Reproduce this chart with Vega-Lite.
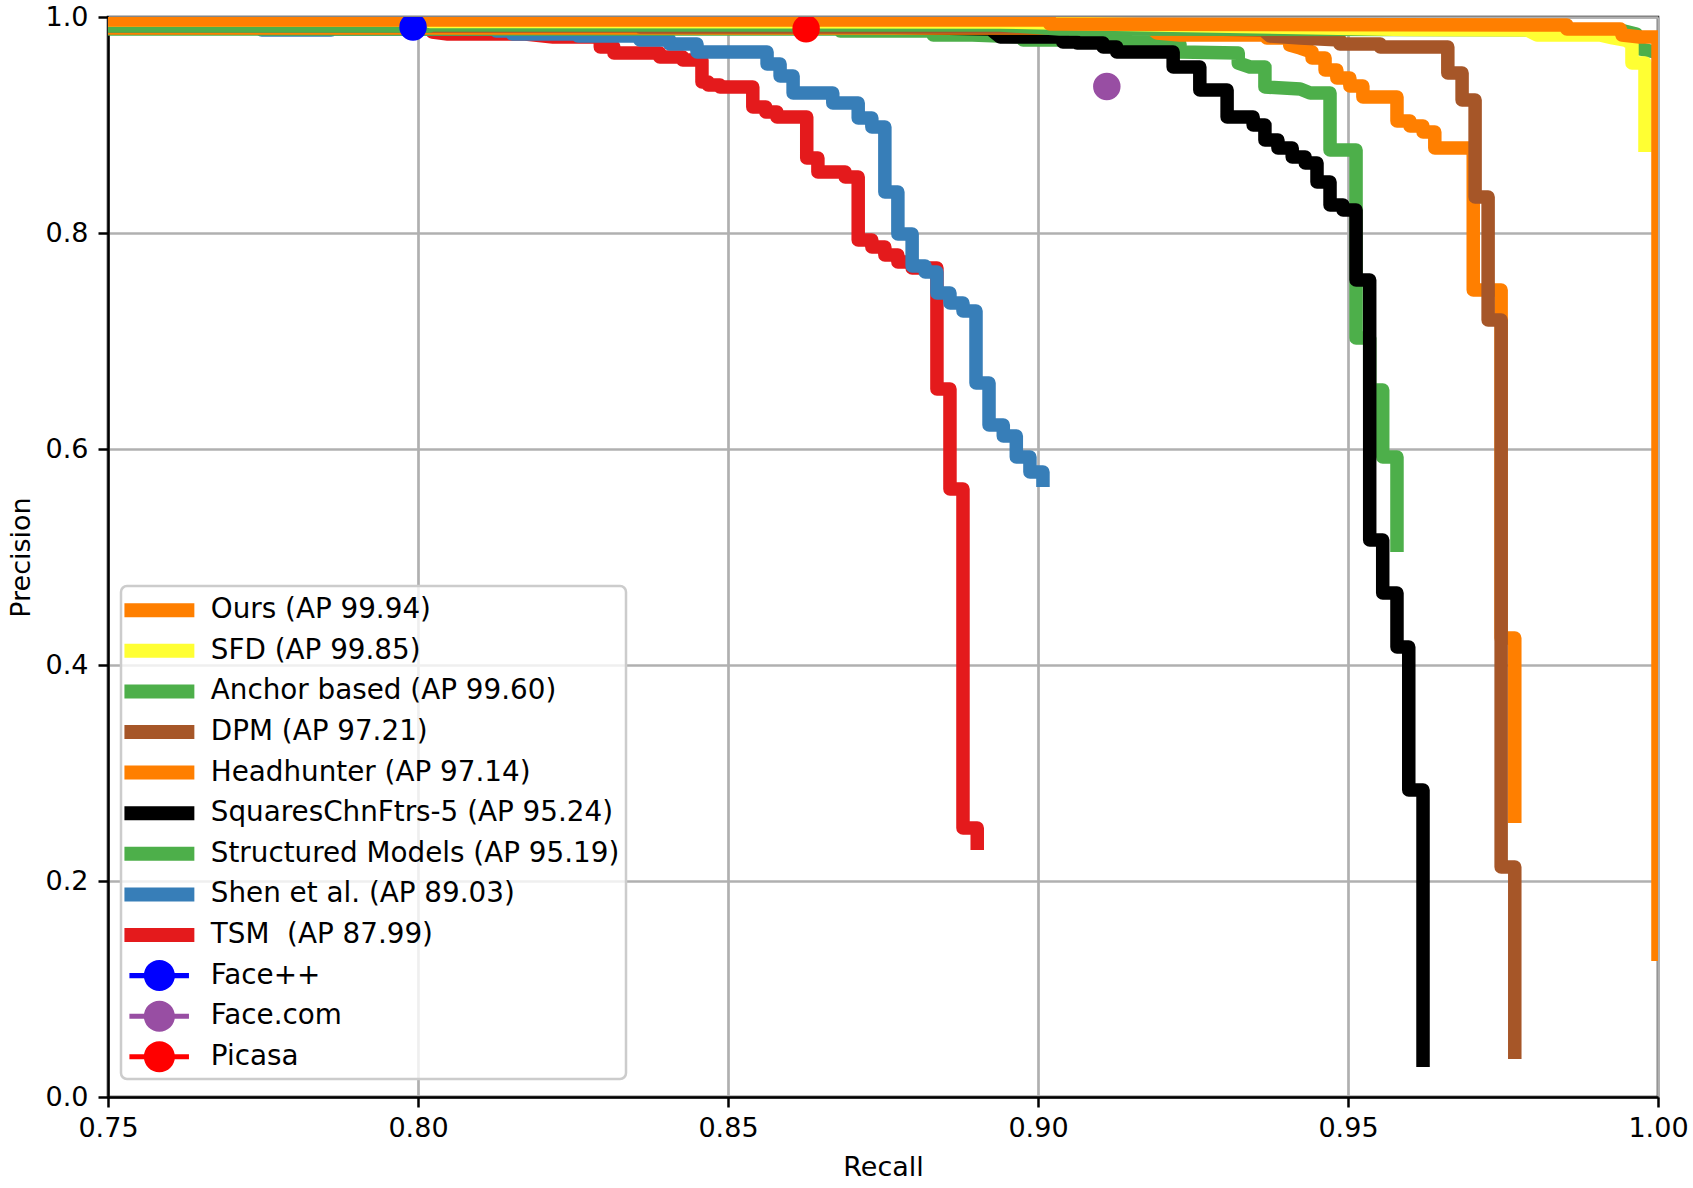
{
  "$schema": "https://vega.github.io/schema/vega-lite/v6.json",
  "width": 1550,
  "height": 1080,
  "autosize": {"type": "none"},
  "padding": {"left": 108, "top": 17, "right": 35, "bottom": 91},
  "background": "white",
  "config": {
    "font": "DejaVu Sans",
    "view": {"stroke": "black", "strokeWidth": 2.5}
  },
  "resolve": {"legend": {"color": "independent", "shape": "independent"}},
  "encoding": {
    "x": {
      "field": "r", "type": "quantitative",
      "scale": {"domain": [0.75, 1.0], "nice": false, "zero": false},
      "axis": {
        "title": "Recall", "values": [0.75, 0.8, 0.85, 0.9, 0.95, 1.0], "format": ".2f",
        "labelFontSize": 27, "titleFontSize": 27, "titleFontWeight": "normal",
        "labelColor": "black", "titleColor": "black",
        "tickSize": 10, "tickWidth": 2.5, "tickColor": "black",
        "domainColor": "black", "domainWidth": 2.5,
        "gridColor": "#b0b0b0", "gridWidth": 2.7,
        "labelPadding": 8, "labelFlush": false, "labelOverlap": false,
        "titleY": 78, "titleBaseline": "alphabetic"
      }
    },
    "y": {
      "field": "p", "type": "quantitative",
      "scale": {"domain": [0, 1.0], "nice": false},
      "axis": {
        "title": "Precision", "values": [0, 0.2, 0.4, 0.6, 0.8, 1.0], "format": ".1f",
        "labelFontSize": 27, "titleFontSize": 27, "titleFontWeight": "normal",
        "labelColor": "black", "titleColor": "black",
        "tickSize": 10, "tickWidth": 2.5, "tickColor": "black",
        "domainColor": "black", "domainWidth": 2.5,
        "gridColor": "#b0b0b0", "gridWidth": 2.7,
        "labelPadding": 10, "labelOverlap": false,
        "titleX": -79, "titleBaseline": "alphabetic"
      }
    }
  },
  "layer": [
    {
      "data": {"values": [
        {"method": "TSM \u00a0(AP 87.99)", "r": 0.75, "p": 0.9898},
        {"method": "TSM \u00a0(AP 87.99)", "r": 0.8023, "p": 0.9898},
        {"method": "TSM \u00a0(AP 87.99)", "r": 0.8023, "p": 0.9861},
        {"method": "TSM \u00a0(AP 87.99)", "r": 0.8048, "p": 0.9843},
        {"method": "TSM \u00a0(AP 87.99)", "r": 0.8173, "p": 0.9843},
        {"method": "TSM \u00a0(AP 87.99)", "r": 0.8218, "p": 0.9815},
        {"method": "TSM \u00a0(AP 87.99)", "r": 0.8294, "p": 0.9815},
        {"method": "TSM \u00a0(AP 87.99)", "r": 0.8294, "p": 0.9722},
        {"method": "TSM \u00a0(AP 87.99)", "r": 0.8316, "p": 0.9722},
        {"method": "TSM \u00a0(AP 87.99)", "r": 0.8316, "p": 0.9667},
        {"method": "TSM \u00a0(AP 87.99)", "r": 0.8390, "p": 0.9667},
        {"method": "TSM \u00a0(AP 87.99)", "r": 0.8390, "p": 0.9630},
        {"method": "TSM \u00a0(AP 87.99)", "r": 0.8427, "p": 0.9630},
        {"method": "TSM \u00a0(AP 87.99)", "r": 0.8427, "p": 0.9602},
        {"method": "TSM \u00a0(AP 87.99)", "r": 0.8458, "p": 0.9602},
        {"method": "TSM \u00a0(AP 87.99)", "r": 0.8458, "p": 0.9398},
        {"method": "TSM \u00a0(AP 87.99)", "r": 0.8468, "p": 0.9398},
        {"method": "TSM \u00a0(AP 87.99)", "r": 0.8468, "p": 0.9370},
        {"method": "TSM \u00a0(AP 87.99)", "r": 0.8487, "p": 0.9370},
        {"method": "TSM \u00a0(AP 87.99)", "r": 0.8487, "p": 0.9352},
        {"method": "TSM \u00a0(AP 87.99)", "r": 0.8540, "p": 0.9352},
        {"method": "TSM \u00a0(AP 87.99)", "r": 0.8540, "p": 0.9167},
        {"method": "TSM \u00a0(AP 87.99)", "r": 0.8561, "p": 0.9167},
        {"method": "TSM \u00a0(AP 87.99)", "r": 0.8561, "p": 0.9120},
        {"method": "TSM \u00a0(AP 87.99)", "r": 0.8579, "p": 0.9120},
        {"method": "TSM \u00a0(AP 87.99)", "r": 0.8579, "p": 0.9074},
        {"method": "TSM \u00a0(AP 87.99)", "r": 0.8627, "p": 0.9074},
        {"method": "TSM \u00a0(AP 87.99)", "r": 0.8627, "p": 0.8694},
        {"method": "TSM \u00a0(AP 87.99)", "r": 0.8645, "p": 0.8694},
        {"method": "TSM \u00a0(AP 87.99)", "r": 0.8645, "p": 0.8565},
        {"method": "TSM \u00a0(AP 87.99)", "r": 0.8689, "p": 0.8565},
        {"method": "TSM \u00a0(AP 87.99)", "r": 0.8689, "p": 0.8519},
        {"method": "TSM \u00a0(AP 87.99)", "r": 0.8710, "p": 0.8519},
        {"method": "TSM \u00a0(AP 87.99)", "r": 0.8710, "p": 0.7935},
        {"method": "TSM \u00a0(AP 87.99)", "r": 0.8732, "p": 0.7935},
        {"method": "TSM \u00a0(AP 87.99)", "r": 0.8732, "p": 0.7870},
        {"method": "TSM \u00a0(AP 87.99)", "r": 0.8753, "p": 0.7870},
        {"method": "TSM \u00a0(AP 87.99)", "r": 0.8753, "p": 0.7796},
        {"method": "TSM \u00a0(AP 87.99)", "r": 0.8774, "p": 0.7796},
        {"method": "TSM \u00a0(AP 87.99)", "r": 0.8774, "p": 0.7731},
        {"method": "TSM \u00a0(AP 87.99)", "r": 0.8797, "p": 0.7731},
        {"method": "TSM \u00a0(AP 87.99)", "r": 0.8797, "p": 0.7676},
        {"method": "TSM \u00a0(AP 87.99)", "r": 0.8837, "p": 0.7676},
        {"method": "TSM \u00a0(AP 87.99)", "r": 0.8837, "p": 0.6556},
        {"method": "TSM \u00a0(AP 87.99)", "r": 0.8858, "p": 0.6556},
        {"method": "TSM \u00a0(AP 87.99)", "r": 0.8858, "p": 0.5630},
        {"method": "TSM \u00a0(AP 87.99)", "r": 0.8879, "p": 0.5630},
        {"method": "TSM \u00a0(AP 87.99)", "r": 0.8879, "p": 0.2491},
        {"method": "TSM \u00a0(AP 87.99)", "r": 0.8902, "p": 0.2491},
        {"method": "TSM \u00a0(AP 87.99)", "r": 0.8902, "p": 0.2287},

        {"method": "Shen et al. (AP 89.03)", "r": 0.75, "p": 0.9917},
        {"method": "Shen et al. (AP 89.03)", "r": 0.7748, "p": 0.9917},
        {"method": "Shen et al. (AP 89.03)", "r": 0.7748, "p": 0.9880},
        {"method": "Shen et al. (AP 89.03)", "r": 0.7860, "p": 0.9880},
        {"method": "Shen et al. (AP 89.03)", "r": 0.7860, "p": 0.9889},
        {"method": "Shen et al. (AP 89.03)", "r": 0.8126, "p": 0.9889},
        {"method": "Shen et al. (AP 89.03)", "r": 0.8126, "p": 0.9870},
        {"method": "Shen et al. (AP 89.03)", "r": 0.8152, "p": 0.9870},
        {"method": "Shen et al. (AP 89.03)", "r": 0.8152, "p": 0.9843},
        {"method": "Shen et al. (AP 89.03)", "r": 0.8258, "p": 0.9843},
        {"method": "Shen et al. (AP 89.03)", "r": 0.8258, "p": 0.9824},
        {"method": "Shen et al. (AP 89.03)", "r": 0.8358, "p": 0.9824},
        {"method": "Shen et al. (AP 89.03)", "r": 0.8358, "p": 0.9787},
        {"method": "Shen et al. (AP 89.03)", "r": 0.8406, "p": 0.9787},
        {"method": "Shen et al. (AP 89.03)", "r": 0.8406, "p": 0.9750},
        {"method": "Shen et al. (AP 89.03)", "r": 0.8450, "p": 0.9750},
        {"method": "Shen et al. (AP 89.03)", "r": 0.8450, "p": 0.9676},
        {"method": "Shen et al. (AP 89.03)", "r": 0.8563, "p": 0.9676},
        {"method": "Shen et al. (AP 89.03)", "r": 0.8563, "p": 0.9565},
        {"method": "Shen et al. (AP 89.03)", "r": 0.8584, "p": 0.9565},
        {"method": "Shen et al. (AP 89.03)", "r": 0.8584, "p": 0.9454},
        {"method": "Shen et al. (AP 89.03)", "r": 0.8605, "p": 0.9454},
        {"method": "Shen et al. (AP 89.03)", "r": 0.8605, "p": 0.9296},
        {"method": "Shen et al. (AP 89.03)", "r": 0.8669, "p": 0.9296},
        {"method": "Shen et al. (AP 89.03)", "r": 0.8669, "p": 0.9204},
        {"method": "Shen et al. (AP 89.03)", "r": 0.8710, "p": 0.9204},
        {"method": "Shen et al. (AP 89.03)", "r": 0.8710, "p": 0.9065},
        {"method": "Shen et al. (AP 89.03)", "r": 0.8732, "p": 0.9065},
        {"method": "Shen et al. (AP 89.03)", "r": 0.8732, "p": 0.8981},
        {"method": "Shen et al. (AP 89.03)", "r": 0.8753, "p": 0.8981},
        {"method": "Shen et al. (AP 89.03)", "r": 0.8753, "p": 0.8380},
        {"method": "Shen et al. (AP 89.03)", "r": 0.8774, "p": 0.8380},
        {"method": "Shen et al. (AP 89.03)", "r": 0.8774, "p": 0.7991},
        {"method": "Shen et al. (AP 89.03)", "r": 0.8797, "p": 0.7991},
        {"method": "Shen et al. (AP 89.03)", "r": 0.8797, "p": 0.7694},
        {"method": "Shen et al. (AP 89.03)", "r": 0.8818, "p": 0.7694},
        {"method": "Shen et al. (AP 89.03)", "r": 0.8818, "p": 0.7639},
        {"method": "Shen et al. (AP 89.03)", "r": 0.8837, "p": 0.7639},
        {"method": "Shen et al. (AP 89.03)", "r": 0.8837, "p": 0.7444},
        {"method": "Shen et al. (AP 89.03)", "r": 0.8858, "p": 0.7444},
        {"method": "Shen et al. (AP 89.03)", "r": 0.8858, "p": 0.7352},
        {"method": "Shen et al. (AP 89.03)", "r": 0.8879, "p": 0.7352},
        {"method": "Shen et al. (AP 89.03)", "r": 0.8879, "p": 0.7278},
        {"method": "Shen et al. (AP 89.03)", "r": 0.8900, "p": 0.7278},
        {"method": "Shen et al. (AP 89.03)", "r": 0.8900, "p": 0.6611},
        {"method": "Shen et al. (AP 89.03)", "r": 0.8921, "p": 0.6611},
        {"method": "Shen et al. (AP 89.03)", "r": 0.8921, "p": 0.6222},
        {"method": "Shen et al. (AP 89.03)", "r": 0.8944, "p": 0.6222},
        {"method": "Shen et al. (AP 89.03)", "r": 0.8944, "p": 0.6120},
        {"method": "Shen et al. (AP 89.03)", "r": 0.8965, "p": 0.6120},
        {"method": "Shen et al. (AP 89.03)", "r": 0.8965, "p": 0.5926},
        {"method": "Shen et al. (AP 89.03)", "r": 0.8987, "p": 0.5926},
        {"method": "Shen et al. (AP 89.03)", "r": 0.8987, "p": 0.5787},
        {"method": "Shen et al. (AP 89.03)", "r": 0.9008, "p": 0.5787},
        {"method": "Shen et al. (AP 89.03)", "r": 0.9008, "p": 0.5648},

        {"method": "Structured Models (AP 95.19)", "r": 0.75, "p": 0.9889},
        {"method": "Structured Models (AP 95.19)", "r": 0.8681, "p": 0.9889},
        {"method": "Structured Models (AP 95.19)", "r": 0.8681, "p": 0.9870},
        {"method": "Structured Models (AP 95.19)", "r": 0.8831, "p": 0.9870},
        {"method": "Structured Models (AP 95.19)", "r": 0.8831, "p": 0.9833},
        {"method": "Structured Models (AP 95.19)", "r": 0.8894, "p": 0.9833},
        {"method": "Structured Models (AP 95.19)", "r": 0.8976, "p": 0.9815},
        {"method": "Structured Models (AP 95.19)", "r": 0.8976, "p": 0.9787},
        {"method": "Structured Models (AP 95.19)", "r": 0.9144, "p": 0.9787},
        {"method": "Structured Models (AP 95.19)", "r": 0.9144, "p": 0.9769},
        {"method": "Structured Models (AP 95.19)", "r": 0.9208, "p": 0.9769},
        {"method": "Structured Models (AP 95.19)", "r": 0.9208, "p": 0.9750},
        {"method": "Structured Models (AP 95.19)", "r": 0.9229, "p": 0.9750},
        {"method": "Structured Models (AP 95.19)", "r": 0.9229, "p": 0.9676},
        {"method": "Structured Models (AP 95.19)", "r": 0.9323, "p": 0.9667},
        {"method": "Structured Models (AP 95.19)", "r": 0.9323, "p": 0.9574},
        {"method": "Structured Models (AP 95.19)", "r": 0.9342, "p": 0.9537},
        {"method": "Structured Models (AP 95.19)", "r": 0.9366, "p": 0.9537},
        {"method": "Structured Models (AP 95.19)", "r": 0.9366, "p": 0.9352},
        {"method": "Structured Models (AP 95.19)", "r": 0.9423, "p": 0.9333},
        {"method": "Structured Models (AP 95.19)", "r": 0.9439, "p": 0.9296},
        {"method": "Structured Models (AP 95.19)", "r": 0.9471, "p": 0.9296},
        {"method": "Structured Models (AP 95.19)", "r": 0.9471, "p": 0.8769},
        {"method": "Structured Models (AP 95.19)", "r": 0.9513, "p": 0.8769},
        {"method": "Structured Models (AP 95.19)", "r": 0.9513, "p": 0.7028},
        {"method": "Structured Models (AP 95.19)", "r": 0.9535, "p": 0.7028},
        {"method": "Structured Models (AP 95.19)", "r": 0.9535, "p": 0.6546},
        {"method": "Structured Models (AP 95.19)", "r": 0.9556, "p": 0.6546},
        {"method": "Structured Models (AP 95.19)", "r": 0.9556, "p": 0.5926},
        {"method": "Structured Models (AP 95.19)", "r": 0.9579, "p": 0.5926},
        {"method": "Structured Models (AP 95.19)", "r": 0.9579, "p": 0.5046},

        {"method": "SquaresChnFtrs-5 (AP 95.24)", "r": 0.75, "p": 0.9907},
        {"method": "SquaresChnFtrs-5 (AP 95.24)", "r": 0.8745, "p": 0.9907},
        {"method": "SquaresChnFtrs-5 (AP 95.24)", "r": 0.8923, "p": 0.9889},
        {"method": "SquaresChnFtrs-5 (AP 95.24)", "r": 0.8939, "p": 0.9815},
        {"method": "SquaresChnFtrs-5 (AP 95.24)", "r": 0.9040, "p": 0.9815},
        {"method": "SquaresChnFtrs-5 (AP 95.24)", "r": 0.9040, "p": 0.9769},
        {"method": "SquaresChnFtrs-5 (AP 95.24)", "r": 0.9063, "p": 0.9769},
        {"method": "SquaresChnFtrs-5 (AP 95.24)", "r": 0.9063, "p": 0.9759},
        {"method": "SquaresChnFtrs-5 (AP 95.24)", "r": 0.9105, "p": 0.9759},
        {"method": "SquaresChnFtrs-5 (AP 95.24)", "r": 0.9105, "p": 0.9722},
        {"method": "SquaresChnFtrs-5 (AP 95.24)", "r": 0.9127, "p": 0.9722},
        {"method": "SquaresChnFtrs-5 (AP 95.24)", "r": 0.9127, "p": 0.9676},
        {"method": "SquaresChnFtrs-5 (AP 95.24)", "r": 0.9218, "p": 0.9676},
        {"method": "SquaresChnFtrs-5 (AP 95.24)", "r": 0.9218, "p": 0.9537},
        {"method": "SquaresChnFtrs-5 (AP 95.24)", "r": 0.9261, "p": 0.9537},
        {"method": "SquaresChnFtrs-5 (AP 95.24)", "r": 0.9261, "p": 0.9324},
        {"method": "SquaresChnFtrs-5 (AP 95.24)", "r": 0.9305, "p": 0.9324},
        {"method": "SquaresChnFtrs-5 (AP 95.24)", "r": 0.9305, "p": 0.9074},
        {"method": "SquaresChnFtrs-5 (AP 95.24)", "r": 0.9347, "p": 0.9074},
        {"method": "SquaresChnFtrs-5 (AP 95.24)", "r": 0.9347, "p": 0.9000},
        {"method": "SquaresChnFtrs-5 (AP 95.24)", "r": 0.9366, "p": 0.9000},
        {"method": "SquaresChnFtrs-5 (AP 95.24)", "r": 0.9366, "p": 0.8861},
        {"method": "SquaresChnFtrs-5 (AP 95.24)", "r": 0.9387, "p": 0.8861},
        {"method": "SquaresChnFtrs-5 (AP 95.24)", "r": 0.9387, "p": 0.8787},
        {"method": "SquaresChnFtrs-5 (AP 95.24)", "r": 0.9410, "p": 0.8787},
        {"method": "SquaresChnFtrs-5 (AP 95.24)", "r": 0.9410, "p": 0.8704},
        {"method": "SquaresChnFtrs-5 (AP 95.24)", "r": 0.9431, "p": 0.8704},
        {"method": "SquaresChnFtrs-5 (AP 95.24)", "r": 0.9431, "p": 0.8648},
        {"method": "SquaresChnFtrs-5 (AP 95.24)", "r": 0.9450, "p": 0.8648},
        {"method": "SquaresChnFtrs-5 (AP 95.24)", "r": 0.9450, "p": 0.8472},
        {"method": "SquaresChnFtrs-5 (AP 95.24)", "r": 0.9471, "p": 0.8472},
        {"method": "SquaresChnFtrs-5 (AP 95.24)", "r": 0.9471, "p": 0.8259},
        {"method": "SquaresChnFtrs-5 (AP 95.24)", "r": 0.9492, "p": 0.8259},
        {"method": "SquaresChnFtrs-5 (AP 95.24)", "r": 0.9492, "p": 0.8213},
        {"method": "SquaresChnFtrs-5 (AP 95.24)", "r": 0.9513, "p": 0.8213},
        {"method": "SquaresChnFtrs-5 (AP 95.24)", "r": 0.9513, "p": 0.7565},
        {"method": "SquaresChnFtrs-5 (AP 95.24)", "r": 0.9535, "p": 0.7565},
        {"method": "SquaresChnFtrs-5 (AP 95.24)", "r": 0.9535, "p": 0.5157},
        {"method": "SquaresChnFtrs-5 (AP 95.24)", "r": 0.9556, "p": 0.5157},
        {"method": "SquaresChnFtrs-5 (AP 95.24)", "r": 0.9556, "p": 0.4667},
        {"method": "SquaresChnFtrs-5 (AP 95.24)", "r": 0.9579, "p": 0.4667},
        {"method": "SquaresChnFtrs-5 (AP 95.24)", "r": 0.9579, "p": 0.4167},
        {"method": "SquaresChnFtrs-5 (AP 95.24)", "r": 0.9598, "p": 0.4167},
        {"method": "SquaresChnFtrs-5 (AP 95.24)", "r": 0.9598, "p": 0.2843},
        {"method": "SquaresChnFtrs-5 (AP 95.24)", "r": 0.9621, "p": 0.2843},
        {"method": "SquaresChnFtrs-5 (AP 95.24)", "r": 0.9621, "p": 0.0278},

        {"method": "Headhunter (AP 97.14)", "r": 0.75, "p": 0.9898},
        {"method": "Headhunter (AP 97.14)", "r": 0.9181, "p": 0.9898},
        {"method": "Headhunter (AP 97.14)", "r": 0.9192, "p": 0.9852},
        {"method": "Headhunter (AP 97.14)", "r": 0.9229, "p": 0.9833},
        {"method": "Headhunter (AP 97.14)", "r": 0.9369, "p": 0.9833},
        {"method": "Headhunter (AP 97.14)", "r": 0.9369, "p": 0.9806},
        {"method": "Headhunter (AP 97.14)", "r": 0.9406, "p": 0.9806},
        {"method": "Headhunter (AP 97.14)", "r": 0.9406, "p": 0.9741},
        {"method": "Headhunter (AP 97.14)", "r": 0.9423, "p": 0.9713},
        {"method": "Headhunter (AP 97.14)", "r": 0.9442, "p": 0.9676},
        {"method": "Headhunter (AP 97.14)", "r": 0.9442, "p": 0.9620},
        {"method": "Headhunter (AP 97.14)", "r": 0.9463, "p": 0.9620},
        {"method": "Headhunter (AP 97.14)", "r": 0.9463, "p": 0.9509},
        {"method": "Headhunter (AP 97.14)", "r": 0.9482, "p": 0.9509},
        {"method": "Headhunter (AP 97.14)", "r": 0.9482, "p": 0.9435},
        {"method": "Headhunter (AP 97.14)", "r": 0.9503, "p": 0.9435},
        {"method": "Headhunter (AP 97.14)", "r": 0.9503, "p": 0.9361},
        {"method": "Headhunter (AP 97.14)", "r": 0.9524, "p": 0.9361},
        {"method": "Headhunter (AP 97.14)", "r": 0.9524, "p": 0.9259},
        {"method": "Headhunter (AP 97.14)", "r": 0.9579, "p": 0.9259},
        {"method": "Headhunter (AP 97.14)", "r": 0.9579, "p": 0.9037},
        {"method": "Headhunter (AP 97.14)", "r": 0.9600, "p": 0.9037},
        {"method": "Headhunter (AP 97.14)", "r": 0.9600, "p": 0.8991},
        {"method": "Headhunter (AP 97.14)", "r": 0.9621, "p": 0.8991},
        {"method": "Headhunter (AP 97.14)", "r": 0.9621, "p": 0.8935},
        {"method": "Headhunter (AP 97.14)", "r": 0.9640, "p": 0.8935},
        {"method": "Headhunter (AP 97.14)", "r": 0.9640, "p": 0.8787},
        {"method": "Headhunter (AP 97.14)", "r": 0.9702, "p": 0.8787},
        {"method": "Headhunter (AP 97.14)", "r": 0.9702, "p": 0.7472},
        {"method": "Headhunter (AP 97.14)", "r": 0.9747, "p": 0.7472},
        {"method": "Headhunter (AP 97.14)", "r": 0.9747, "p": 0.4250},
        {"method": "Headhunter (AP 97.14)", "r": 0.9769, "p": 0.4250},
        {"method": "Headhunter (AP 97.14)", "r": 0.9769, "p": 0.2537},

        {"method": "DPM (AP 97.21)", "r": 0.75, "p": 0.9917},
        {"method": "DPM (AP 97.21)", "r": 0.8358, "p": 0.9917},
        {"method": "DPM (AP 97.21)", "r": 0.8358, "p": 0.9907},
        {"method": "DPM (AP 97.21)", "r": 0.9181, "p": 0.9907},
        {"method": "DPM (AP 97.21)", "r": 0.9189, "p": 0.9898},
        {"method": "DPM (AP 97.21)", "r": 0.9363, "p": 0.9880},
        {"method": "DPM (AP 97.21)", "r": 0.9374, "p": 0.9824},
        {"method": "DPM (AP 97.21)", "r": 0.9423, "p": 0.9806},
        {"method": "DPM (AP 97.21)", "r": 0.9487, "p": 0.9787},
        {"method": "DPM (AP 97.21)", "r": 0.9487, "p": 0.9750},
        {"method": "DPM (AP 97.21)", "r": 0.9552, "p": 0.9750},
        {"method": "DPM (AP 97.21)", "r": 0.9552, "p": 0.9722},
        {"method": "DPM (AP 97.21)", "r": 0.9661, "p": 0.9722},
        {"method": "DPM (AP 97.21)", "r": 0.9661, "p": 0.9481},
        {"method": "DPM (AP 97.21)", "r": 0.9684, "p": 0.9481},
        {"method": "DPM (AP 97.21)", "r": 0.9684, "p": 0.9231},
        {"method": "DPM (AP 97.21)", "r": 0.9705, "p": 0.9231},
        {"method": "DPM (AP 97.21)", "r": 0.9705, "p": 0.8333},
        {"method": "DPM (AP 97.21)", "r": 0.9726, "p": 0.8333},
        {"method": "DPM (AP 97.21)", "r": 0.9726, "p": 0.7194},
        {"method": "DPM (AP 97.21)", "r": 0.9747, "p": 0.7194},
        {"method": "DPM (AP 97.21)", "r": 0.9747, "p": 0.2130},
        {"method": "DPM (AP 97.21)", "r": 0.9769, "p": 0.2130},
        {"method": "DPM (AP 97.21)", "r": 0.9769, "p": 0.0352},

        {"method": "Anchor based (AP 99.60)", "r": 0.75, "p": 0.9917},
        {"method": "Anchor based (AP 99.60)", "r": 0.8019, "p": 0.9917},
        {"method": "Anchor based (AP 99.60)", "r": 0.8019, "p": 0.9926},
        {"method": "Anchor based (AP 99.60)", "r": 0.8939, "p": 0.9926},
        {"method": "Anchor based (AP 99.60)", "r": 0.9035, "p": 0.9889},
        {"method": "Anchor based (AP 99.60)", "r": 0.9939, "p": 0.9880},
        {"method": "Anchor based (AP 99.60)", "r": 0.9965, "p": 0.9843},
        {"method": "Anchor based (AP 99.60)", "r": 0.9971, "p": 0.9704},
        {"method": "Anchor based (AP 99.60)", "r": 0.9995, "p": 0.9676},

        {"method": "SFD (AP 99.85)", "r": 0.75, "p": 0.9972},
        {"method": "SFD (AP 99.85)", "r": 0.8019, "p": 0.9972},
        {"method": "SFD (AP 99.85)", "r": 0.8019, "p": 0.9958},
        {"method": "SFD (AP 99.85)", "r": 0.8939, "p": 0.9954},
        {"method": "SFD (AP 99.85)", "r": 0.9100, "p": 0.9935},
        {"method": "SFD (AP 99.85)", "r": 0.9595, "p": 0.9884},
        {"method": "SFD (AP 99.85)", "r": 0.9789, "p": 0.9880},
        {"method": "SFD (AP 99.85)", "r": 0.9805, "p": 0.9833},
        {"method": "SFD (AP 99.85)", "r": 0.9906, "p": 0.9833},
        {"method": "SFD (AP 99.85)", "r": 0.9927, "p": 0.9806},
        {"method": "SFD (AP 99.85)", "r": 0.9947, "p": 0.9787},
        {"method": "SFD (AP 99.85)", "r": 0.9958, "p": 0.9750},
        {"method": "SFD (AP 99.85)", "r": 0.9958, "p": 0.9574},
        {"method": "SFD (AP 99.85)", "r": 0.9979, "p": 0.9574},
        {"method": "SFD (AP 99.85)", "r": 0.9979, "p": 0.8750},

        {"method": "Ours (AP 99.94)", "r": 0.75, "p": 0.9972},
        {"method": "Ours (AP 99.94)", "r": 0.9019, "p": 0.9972},
        {"method": "Ours (AP 99.94)", "r": 0.9019, "p": 0.9935},
        {"method": "Ours (AP 99.94)", "r": 0.9853, "p": 0.9926},
        {"method": "Ours (AP 99.94)", "r": 0.9853, "p": 0.9889},
        {"method": "Ours (AP 99.94)", "r": 0.9939, "p": 0.9889},
        {"method": "Ours (AP 99.94)", "r": 0.9942, "p": 0.9833},
        {"method": "Ours (AP 99.94)", "r": 0.9971, "p": 0.9815},
        {"method": "Ours (AP 99.94)", "r": 1.0, "p": 0.9815},
        {"method": "Ours (AP 99.94)", "r": 1.0, "p": 0.1259}
      ]},
      "mark": {"type": "line", "strokeWidth": 13.5, "strokeJoin": "round", "strokeCap": "butt", "clip": true},
      "encoding": {
        "color": {
          "field": "method", "type": "nominal", "legend": null,
          "scale": {
            "domain": ["Ours (AP 99.94)", "SFD (AP 99.85)", "Anchor based (AP 99.60)", "DPM (AP 97.21)", "Headhunter (AP 97.14)", "SquaresChnFtrs-5 (AP 95.24)", "Structured Models (AP 95.19)", "Shen et al. (AP 89.03)", "TSM \u00a0(AP 87.99)", "Face++", "Face.com", "Picasa"],
            "range": ["#ff7f00", "#ffff33", "#4daf4a", "#a65628", "#ff7f00", "#000000", "#4daf4a", "#377eb8", "#e41a1c", "#0000ff", "#984ea3", "#ff0000"]
          }
        },
        "order": {"value": null}
      }
    },
    {
      "data": {"values": [
        {"method": "Face++", "r": 0.7992, "p": 0.9907},
        {"method": "Face.com", "r": 0.9111, "p": 0.9357},
        {"method": "Picasa", "r": 0.8626, "p": 0.9892}
      ]},
      "mark": {"type": "point", "shape": "circle", "filled": true, "opacity": 1, "size": 755, "clip": true},
      "encoding": {
        "color": {"field": "method", "type": "nominal", "legend": null}
      }
    },
    {
      "data": {"values": [
        {"method": "Face++", "r": 0.7992, "p": 0.9907},
        {"method": "Face.com", "r": 0.9111, "p": 0.9357},
        {"method": "Picasa", "r": 0.8626, "p": 0.9892}
      ]},
      "mark": {"type": "point", "filled": true, "opacity": 0, "size": 10},
      "encoding": {
        "color": {
          "field": "method", "type": "nominal",
          "legend": {
            "title": " ", "titleFontSize": 1, "titlePadding": 3.3, "orient": "none", "legendX": 13, "legendY": 569,
            "padding": 6, "labelFontSize": 27.8, "labelColor": "black", "labelOffset": 56,
            "labelLimit": 1000, "rowPadding": 4.6, "symbolSize": 729, "symbolStrokeWidth": 0,
            "fillColor": "rgba(255,255,255,0.8)", "strokeColor": "#cccccc", "cornerRadius": 6,
            "encode": {"symbols": {"update": {"opacity": {"value": 1}}}, "legend": {"update": {"strokeWidth": {"value": 2.5}}}}
          }
        },
        "shape": {
          "field": "method", "type": "nominal",
          "scale": {
            "domain": ["Ours (AP 99.94)", "SFD (AP 99.85)", "Anchor based (AP 99.60)", "DPM (AP 97.21)", "Headhunter (AP 97.14)", "SquaresChnFtrs-5 (AP 95.24)", "Structured Models (AP 95.19)", "Shen et al. (AP 89.03)", "TSM \u00a0(AP 87.99)", "Face++", "Face.com", "Picasa"],
            "range": [
              "M-1.22,-0.52H3.96V0.52H-1.22Z M1.37,-1.47V1.15", "M-1.22,-0.52H3.96V0.52H-1.22Z M1.37,-1.47V1.15", "M-1.22,-0.52H3.96V0.52H-1.22Z M1.37,-1.47V1.15",
              "M-1.22,-0.52H3.96V0.52H-1.22Z M1.37,-1.47V1.15", "M-1.22,-0.52H3.96V0.52H-1.22Z M1.37,-1.47V1.15", "M-1.22,-0.52H3.96V0.52H-1.22Z M1.37,-1.47V1.15",
              "M-1.22,-0.52H3.96V0.52H-1.22Z M1.37,-1.47V1.15", "M-1.22,-0.52H3.96V0.52H-1.22Z M1.37,-1.47V1.15", "M-1.22,-0.52H3.96V0.52H-1.22Z M1.37,-1.47V1.15",
              "M-0.85,-0.19H3.56V0.19H-0.85Z M0.22,0A1.15,1.15,0,1,1,2.52,0A1.15,1.15,0,1,1,0.22,0Z M1.37,-1.47V1.15",
              "M-0.85,-0.19H3.56V0.19H-0.85Z M0.22,0A1.15,1.15,0,1,1,2.52,0A1.15,1.15,0,1,1,0.22,0Z M1.37,-1.47V1.15",
              "M-0.85,-0.19H3.56V0.19H-0.85Z M0.22,0A1.15,1.15,0,1,1,2.52,0A1.15,1.15,0,1,1,0.22,0Z M1.37,-1.47V1.15"
            ]
          },
          "legend": {
            "title": " ", "titleFontSize": 1, "titlePadding": 3.3, "orient": "none", "legendX": 13, "legendY": 569,
            "padding": 6, "labelFontSize": 27.8, "labelColor": "black", "labelOffset": 56,
            "labelLimit": 1000, "rowPadding": 4.6, "symbolSize": 729, "symbolStrokeWidth": 0,
            "fillColor": "rgba(255,255,255,0.8)", "strokeColor": "#cccccc", "cornerRadius": 6,
            "encode": {"symbols": {"update": {"opacity": {"value": 1}}}, "legend": {"update": {"strokeWidth": {"value": 2.5}}}}
          }
        }
      }
    }
  ]
}
